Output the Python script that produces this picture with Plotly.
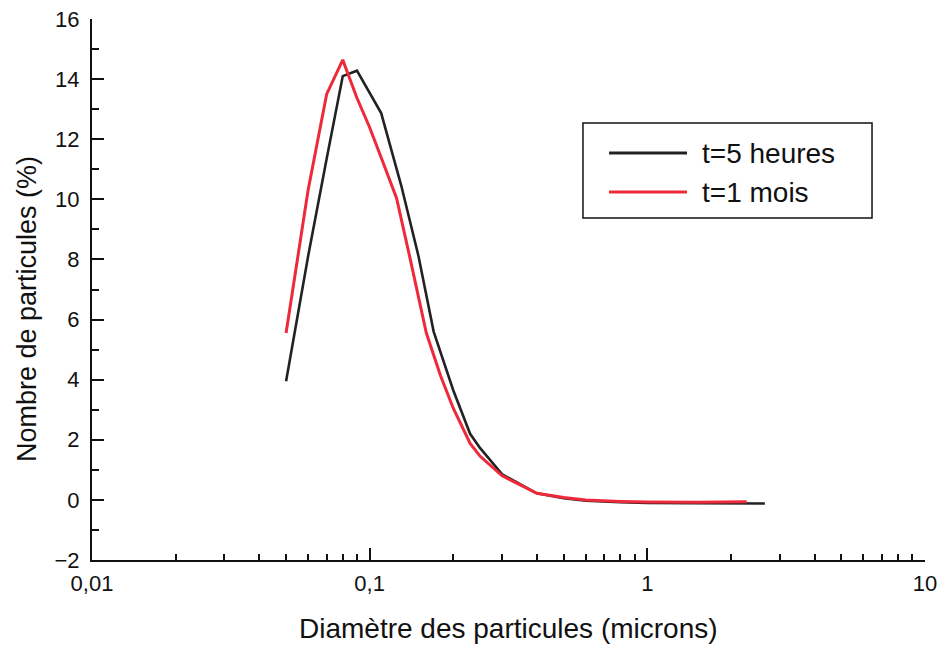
import plotly.graph_objects as go

# ---- data ----
diam_5h = [0.05, 0.06, 0.07, 0.08, 0.09, 0.11, 0.13, 0.15, 0.17, 0.2, 0.23, 0.25,
           0.3, 0.4, 0.5, 0.6, 0.8, 1.0, 1.5, 2.0, 2.65]
pct_5h = [3.95, 8.1, 11.35, 14.1, 14.28, 12.87, 10.45, 8.1, 5.6, 3.65, 2.2, 1.72,
          0.85, 0.22, 0.06, -0.03, -0.08, -0.1, -0.11, -0.12, -0.12]

diam_1m = [0.05, 0.06, 0.07, 0.08, 0.09, 0.1, 0.11, 0.125, 0.14, 0.16, 0.18, 0.2,
           0.23, 0.25, 0.3, 0.4, 0.5, 0.6, 0.8, 1.0, 1.5, 2.28]
pct_1m = [5.55, 10.3, 13.5, 14.64, 13.37, 12.39, 11.39, 10.04, 8.01, 5.55, 4.13, 3.05,
          1.88, 1.45, 0.8, 0.22, 0.08, 0.0, -0.05, -0.07, -0.08, -0.06]

series_names = ["t=5 heures", "t=1 mois"]
series_colors = ["#222222", "#ee2a3a"]

x_tickvals = [0.01, 0.1, 1, 10]
x_ticktext = ["0,01", "0,1", "1", "10"]
x_minor = [m * d for d in (0.01, 0.1, 1) for m in range(2, 10)]
y_tickvals = list(range(-2, 17, 2))
y_minor = list(range(-1, 16, 2))

x_title = "Diamètre des particules (microns)"
y_title = "Nombre de particules (%)"

FONT = "Liberation Sans, Arial, sans-serif"

fig = go.Figure()
fig.add_trace(go.Scatter(x=diam_5h, y=pct_5h, mode="lines", name=series_names[0],
                         line=dict(color=series_colors[0], width=2.6)))
fig.add_trace(go.Scatter(x=diam_1m, y=pct_1m, mode="lines", name=series_names[1],
                         line=dict(color=series_colors[1], width=3)))

fig.update_layout(
    width=938, height=645,
    margin=dict(l=92, r=13, t=19, b=85, autoexpand=False),
    paper_bgcolor="white", plot_bgcolor="white",
    showlegend=False,
    font=dict(family=FONT, color="#111111"),
)

fig.update_xaxes(
    type="log", range=[-2, 1], automargin=False,
    showline=True, linecolor="#111111", linewidth=2,
    showgrid=False, zeroline=False,
    tickmode="array", tickvals=x_tickvals, ticktext=x_ticktext,
    ticks="inside", ticklen=12, tickwidth=1.5, tickcolor="#111111",
    tickfont=dict(size=22, family=FONT, color="#111111"),
    ticklabelstandoff=3, ticklabeloverflow="allow",
    minor=dict(tickmode="array", tickvals=x_minor, ticks="inside", ticklen=6,
               tickwidth=1.5, tickcolor="#111111", showgrid=False),
)
fig.update_yaxes(
    range=[-2, 16], automargin=False,
    showline=True, linecolor="#111111", linewidth=2,
    showgrid=False, zeroline=False,
    tickmode="array", tickvals=y_tickvals,
    ticks="inside", ticklen=12, tickwidth=1.5, tickcolor="#111111",
    tickfont=dict(size=22, family=FONT, color="#111111"),
    ticklabelstandoff=6, ticklabeloverflow="allow",
    minor=dict(tickmode="array", tickvals=y_minor, ticks="inside", ticklen=7,
               tickwidth=1.5, tickcolor="#111111", showgrid=False),
)

# axis titles placed as in the reference
fig.add_annotation(xref="paper", yref="paper", x=0.5, y=-0.1257,
                   xanchor="center", yanchor="middle", showarrow=False,
                   text=x_title, font=dict(size=28, family=FONT, color="#111111"))
fig.add_annotation(xref="paper", yref="paper", x=-0.078, y=0.464,
                   xanchor="center", yanchor="middle", showarrow=False, textangle=-90,
                   text=y_title, font=dict(size=27, family=FONT, color="#111111"))

# ---- legend box drawn as in the reference ----
fig.add_shape(type="rect", xref="paper", yref="paper",
              x0=0.5894, x1=0.9364, y0=0.6322, y1=0.8078,
              line=dict(color="#111111", width=1.5), fillcolor="white")
leg_rows_y = [0.7523, 0.6802]
for name, color, yy in zip(series_names, series_colors, leg_rows_y):
    fig.add_shape(type="line", xref="paper", yref="paper",
                  x0=0.6207, x1=0.7143, y0=yy, y1=yy,
                  line=dict(color=color, width=3))
    fig.add_annotation(xref="paper", yref="paper", x=0.7299, y=yy,
                       xanchor="left", yanchor="middle", showarrow=False,
                       text=name, font=dict(size=28, family=FONT, color="#111111"))

# remove the default 8px page margin so the figure sits at the window origin
fig.write_html("out.html",
               config={"displayModeBar": False},
               post_script="document.body.style.margin='0';document.body.style.overflow='hidden';")
